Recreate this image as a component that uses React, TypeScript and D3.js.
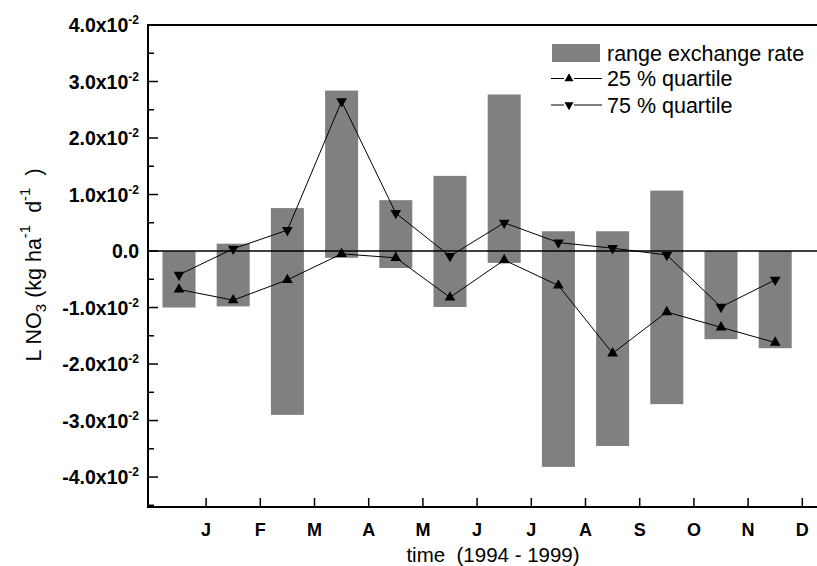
import React, { useRef, useEffect } from 'react'
import * as d3 from 'd3'

// month tick labels on the time axis
const months = ['J', 'F', 'M', 'A', 'M', 'J', 'J', 'A', 'S', 'O', 'N', 'D']

// range of the exchange rate per bar (top / bottom)
const rangeTop = [0.0, 0.0013, 0.0076, 0.0284, 0.009, 0.0133, 0.0277, 0.0035, 0.0035, 0.0107, 0.0, 0.0]
const rangeBottom = [-0.01, -0.0098, -0.029, -0.0012, -0.003, -0.0099, -0.0021, -0.0382, -0.0345, -0.0271, -0.0156, -0.0172]

// quartiles
const q25 = [-0.0068, -0.0087, -0.0051, -0.0005, -0.0012, -0.0082, -0.0016, -0.0061, -0.0181, -0.0108, -0.0135, -0.0162]
const q75 = [-0.0042, 0.0004, 0.0037, 0.0265, 0.0067, -0.0009, 0.005, 0.0015, 0.0005, -0.0007, -0.0099, -0.0051]

const yMajor = [0.04, 0.03, 0.02, 0.01, 0, -0.01, -0.02, -0.03, -0.04]

export default function App() {
    const svgRef = useRef(null)

    useEffect(() => {
        const svg = d3.select(svgRef.current)
        svg.selectAll('*').remove()

        const left = 148, top = 25, bottom = 507, right = 817

        const y = d3.scaleLinear().domain([-0.0453, 0.04]).range([bottom, top])
        // month index scale: bar i centred on i + 0.5, month ticks at 1..12
        const x = d3.scaleLinear().domain([0, 12]).range([151.9, 802.3])
        const barW = 33
        const cx = (i) => x(i + 0.5)

        const font = 'Arial, "Liberation Sans", sans-serif'

        // bars
        svg.append('g')
            .selectAll('rect')
            .data(rangeTop)
            .join('rect')
            .attr('x', (d, i) => cx(i) - barW / 2)
            .attr('width', barW)
            .attr('y', d => y(d))
            .attr('height', (d, i) => y(rangeBottom[i]) - y(d))
            .attr('fill', '#808080')

        // zero line
        svg.append('line')
            .attr('x1', left).attr('x2', right)
            .attr('y1', y(0)).attr('y2', y(0))
            .attr('stroke', '#000').attr('stroke-width', 1.5)

        // quartile lines
        const line = d3.line()
            .x((d, i) => cx(i))
            .y(d => y(d))

        ;[q25, q75].forEach(series => {
            svg.append('path')
                .datum(series)
                .attr('d', line)
                .attr('fill', 'none')
                .attr('stroke', '#000')
                .attr('stroke-width', 1)
        })

        const tri = d3.symbol().type(d3.symbolTriangle).size(50)

        svg.append('g')
            .selectAll('path')
            .data(q25)
            .join('path')
            .attr('d', tri)
            .attr('transform', (d, i) => `translate(${cx(i)},${y(d)})`)
            .attr('fill', '#000')

        svg.append('g')
            .selectAll('path')
            .data(q75)
            .join('path')
            .attr('d', tri)
            .attr('transform', (d, i) => `translate(${cx(i)},${y(d)}) rotate(180)`)
            .attr('fill', '#000')

        // frame
        svg.append('path')
            .attr('d', `M${right},${top}H${left}V${bottom}H${right}`)
            .attr('fill', 'none')
            .attr('stroke', '#000')
            .attr('stroke-width', 2)

        // y axis ticks (inward)
        const minor = d3.range(-0.045, 0.0401, 0.005)
        svg.append('g')
            .selectAll('line')
            .data(minor)
            .join('line')
            .attr('x1', left)
            .attr('x2', (d) => yMajor.some(m => Math.abs(m - d) < 1e-6) ? left + 10 : left + 6)
            .attr('y1', d => y(d)).attr('y2', d => y(d))
            .attr('stroke', '#000').attr('stroke-width', 1.5)

        const yl = svg.append('g')
            .selectAll('text')
            .data(yMajor)
            .join('text')
            .attr('x', 139)
            .attr('y', d => y(d) + 7)
            .attr('text-anchor', 'end')
            .attr('font-family', font)
            .attr('font-weight', 'bold')
            .attr('font-size', 19.5)
        yl.each(function (d) {
            const t = d3.select(this)
            if (d === 0) {
                t.text('0.0')
            } else {
                t.append('tspan').text((d * 100).toFixed(1) + 'x10')
                t.append('tspan').attr('font-size', 12).attr('dy', -8).text('-2')
            }
        })

        // x axis ticks (inward)
        const xt = d3.range(1, 13)
        svg.append('g')
            .selectAll('line')
            .data(xt)
            .join('line')
            .attr('x1', d => x(d)).attr('x2', d => x(d))
            .attr('y1', bottom).attr('y2', bottom - 9)
            .attr('stroke', '#000').attr('stroke-width', 1.5)

        svg.append('g')
            .selectAll('text')
            .data(months)
            .join('text')
            .attr('x', (d, i) => x(i + 1))
            .attr('y', 536)
            .attr('text-anchor', 'middle')
            .attr('font-family', font)
            .attr('font-weight', 'bold')
            .attr('font-size', 18)
            .text(d => d)

        svg.append('text')
            .attr('x', 493)
            .attr('y', 562)
            .attr('text-anchor', 'middle')
            .attr('font-family', font)
            .attr('font-size', 20.5)
            .style('white-space', 'pre')
            .text('time  (1994 - 1999)')

        // y axis title
        const yt = svg.append('text')
            .attr('transform', 'translate(41,265) rotate(-90)')
            .attr('text-anchor', 'middle')
            .attr('font-family', font)
            .attr('font-size', 21.5)
            .style('white-space', 'pre')
        yt.append('tspan').text('L NO')
        yt.append('tspan').attr('font-size', 15).attr('dy', 5).text('3')
        yt.append('tspan').attr('dy', -5).text(' (kg ha')
        yt.append('tspan').attr('font-size', 15).attr('dy', -11).text('-1')
        yt.append('tspan').attr('dy', 11).text('  d')
        yt.append('tspan').attr('font-size', 15).attr('dy', -11).text('-1')
        yt.append('tspan').attr('dy', 11).text('  )')

        // legend
        const lg = svg.append('g').attr('font-family', font).attr('font-size', 21.5)
        lg.append('rect').attr('x', 552).attr('y', 44).attr('width', 48).attr('height', 18).attr('fill', '#808080')
        lg.append('text').attr('x', 607).attr('y', 61).text('range exchange rate')

        const rows = [
            { label: '25 % quartile', rot: 0, cy: 78.5 },
            { label: '75 % quartile', rot: 180, cy: 105 },
        ]
        rows.forEach(r => {
            lg.append('line').attr('x1', 551).attr('x2', 564).attr('y1', r.cy).attr('y2', r.cy).attr('stroke', '#000')
            lg.append('line').attr('x1', 574).attr('x2', 602).attr('y1', r.cy).attr('y2', r.cy).attr('stroke', '#000')
            lg.append('path')
                .attr('d', d3.symbol().type(d3.symbolTriangle).size(36))
                .attr('transform', `translate(569,${r.cy}) rotate(${r.rot})`)
                .attr('fill', '#000')
            lg.append('text').attr('x', 607).attr('y', r.cy + 7.5).text(r.label)
        })
    }, [])

    return (
        <svg
            ref={svgRef}
            width={817}
            height={566}
            style={{ position: 'absolute', left: 0, top: 0, background: '#fff' }}
        />
    )
}
